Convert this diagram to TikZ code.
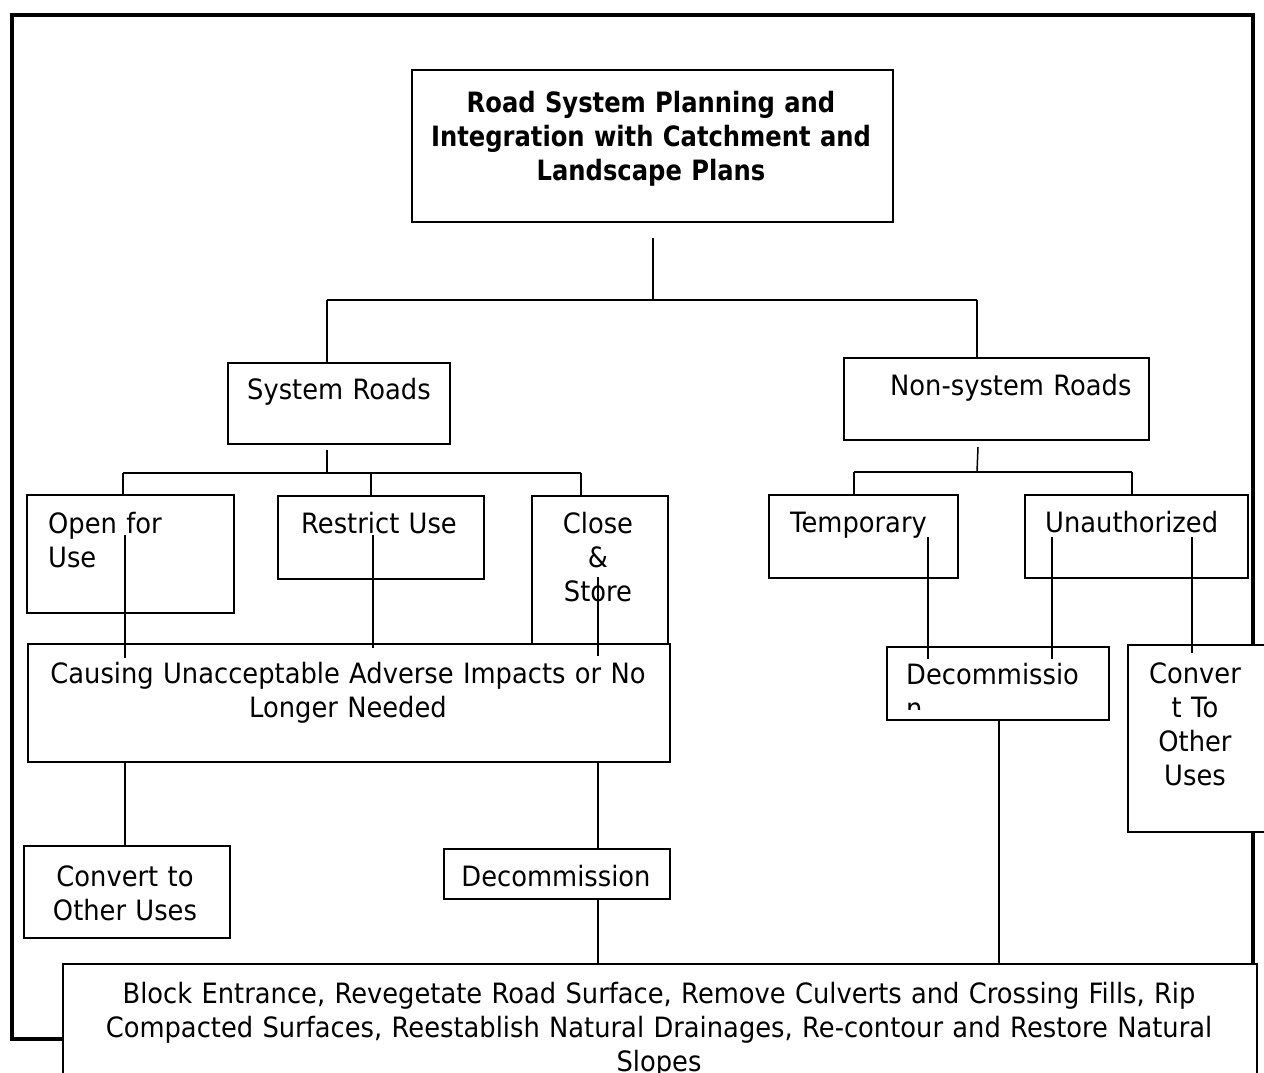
\documentclass[tikz,border=0pt]{standalone}
\usepackage{fontspec}
\setmainfont{DejaVu Sans}[FakeStretch=0.92]
\newfontfamily\tfont{DejaVu Sans}[FakeStretch=0.865]
\begin{document}
\begin{tikzpicture}[x=1pt,y=-1pt,
  box/.style={draw=black, fill=white, line width=1.8pt, inner sep=0pt, anchor=north west},
  txt/.style={inner sep=0pt, font=\fontsize{28}{34}\selectfont},
  ltxt/.style={txt, anchor=base west, text width=330pt, align=left},
  ctxt/.style={txt, anchor=base, align=center},
  conn/.style={draw=black, line width=1.5pt},
  frame/.style={draw=black, line width=4pt}]
\useasboundingbox (0,0) rectangle (1264,1073);
\clip (0,0) rectangle (1264,1073);

% outer frame
\draw[frame] (11.5,15) rectangle (1253,1039);

% boxes and texts
\node[box, minimum width=481pt, minimum height=152pt] (title) at (411,69) {};
\node[ctxt, text width=470pt, font=\tfont\bfseries\fontsize{28}{33.5}\selectfont] (titleT) at (651,113)
  {Road System Planning and\\Integration with Catchment and\\Landscape Plans};

\node[box, minimum width=222pt, minimum height=81pt] (sys) at (227,362) {};
\node[ltxt] (sysT) at (247,399) {System Roads};

\node[box, minimum width=305pt, minimum height=82pt] (nsys) at (843,357) {};
\node[ltxt] (nsysT) at (890,395) {Non-system Roads};

\node[box, minimum width=207pt, minimum height=118pt] (open) at (26,494) {};
\node[ltxt] (openT) at (48,533) {Open for\\Use};

\node[box, minimum width=206pt, minimum height=83pt] (restrict) at (277,495) {};
\node[ltxt] (restrictT) at (301,533) {Restrict Use};

\node[box, minimum width=136pt, minimum height=160pt] (close) at (531,495) {};
\node[ctxt, text width=130pt] (closeT) at (598,533) {Close\\\&\\Store};

\node[box, minimum width=189pt, minimum height=83pt] (temp) at (768,494) {};
\node[ltxt] (tempT) at (790,532) {Temporary};

\node[box, minimum width=223pt, minimum height=83pt] (unauth) at (1024,494) {};
\node[ltxt] (unauthT) at (1045,532) {Unauthorized};

\node[box, minimum width=642pt, minimum height=118pt] (causing) at (27,643) {};
\node[ctxt, text width=640pt] (causingT) at (348,683)
  {Causing Unacceptable Adverse Impacts or No\\Longer Needed};

\node[box, minimum width=222pt, minimum height=73pt] (decR) at (886,646) {};
\begin{scope}
  \clip (886,646) rectangle (1108,709);
  \node[ltxt] (decRT) at (906,684) {Decommissio\\n};
\end{scope}

\node[box, minimum width=170pt, minimum height=187pt] (convR) at (1127,644) {};
\node[ctxt, text width=160pt, font=\fontsize{28}{34.3}\selectfont] (convRT) at (1195,683) {Conver\\t To\\Other\\Uses};

\node[box, minimum width=206pt, minimum height=92pt] (convL) at (23,845) {};
\node[ctxt, text width=200pt] (convLT) at (125,886) {Convert to\\Other Uses};

\node[box, minimum width=226pt, minimum height=50pt] (decL) at (443,848) {};
\node[ctxt, text width=220pt] (decLT) at (556,886) {Decommission};

\node[box, minimum width=1194pt, minimum height=150pt] (block) at (62,963) {};
\node[ctxt, text width=1180pt] (blockT) at (659,1003)
  {Block Entrance, Revegetate Road Surface, Remove Culverts and Crossing Fills, Rip\\Compacted Surfaces, Reestablish Natural Drainages, Re-contour and Restore Natural\\Slopes};

% connector points
\coordinate (t0) at (653,238);
\coordinate (t1) at (653,300);
\coordinate (tl) at (327,300);
\coordinate (tr) at (977,300);
\coordinate (sysIn) at (327,362);
\coordinate (nsysIn) at (977,357);

\coordinate (s0) at (327,450);
\coordinate (s1) at (327,473);
\coordinate (sl) at (123,473);
\coordinate (sm) at (371,473);
\coordinate (sr) at (581,473);
\coordinate (openIn) at (123,494);
\coordinate (restrictIn) at (371,495);
\coordinate (closeIn) at (581,495);

\coordinate (n0) at (978,447);
\coordinate (n1) at (977,472);
\coordinate (nl) at (854,472);
\coordinate (nr) at (1132,472);
\coordinate (tempIn) at (854,494);
\coordinate (unauthIn) at (1132,494);

\coordinate (o0) at (125,535);
\coordinate (o1) at (125,658);
\coordinate (r0) at (373,535);
\coordinate (r1) at (373,648);
\coordinate (c0) at (598,577);
\coordinate (c1) at (598,656);

\coordinate (ca0) at (125,761);
\coordinate (ca1) at (125,845);
\coordinate (cb0) at (598,761);
\coordinate (cb1) at (598,848);
\coordinate (d0) at (598,898);
\coordinate (d1) at (598,963);

\coordinate (te0) at (928,537);
\coordinate (te1) at (928,659);
\coordinate (u0) at (1052,537);
\coordinate (u1) at (1052,659);
\coordinate (v0) at (1192,537);
\coordinate (v1) at (1192,653);
\coordinate (e0) at (999,719);
\coordinate (e1) at (999,963);

% connectors
\draw[conn] (t0) -- (t1);
\draw[conn] (tl) -- (tr);
\draw[conn] (tl) -- (sysIn);
\draw[conn] (tr) -- (nsysIn);

\draw[conn] (s0) -- (s1);
\draw[conn] (sl) -- (sr);
\draw[conn] (sl) -- (openIn);
\draw[conn] (sm) -- (restrictIn);
\draw[conn] (sr) -- (closeIn);

\draw[conn] (n0) -- (n1);
\draw[conn] (nl) -- (nr);
\draw[conn] (nl) -- (tempIn);
\draw[conn] (nr) -- (unauthIn);

\draw[conn] (o0) -- (o1);
\draw[conn] (r0) -- (r1);
\draw[conn] (c0) -- (c1);
\draw[conn] (ca0) -- (ca1);
\draw[conn] (cb0) -- (cb1);
\draw[conn] (d0) -- (d1);
\draw[conn] (te0) -- (te1);
\draw[conn] (u0) -- (u1);
\draw[conn] (v0) -- (v1);
\draw[conn] (e0) -- (e1);
\end{tikzpicture}
\end{document}
